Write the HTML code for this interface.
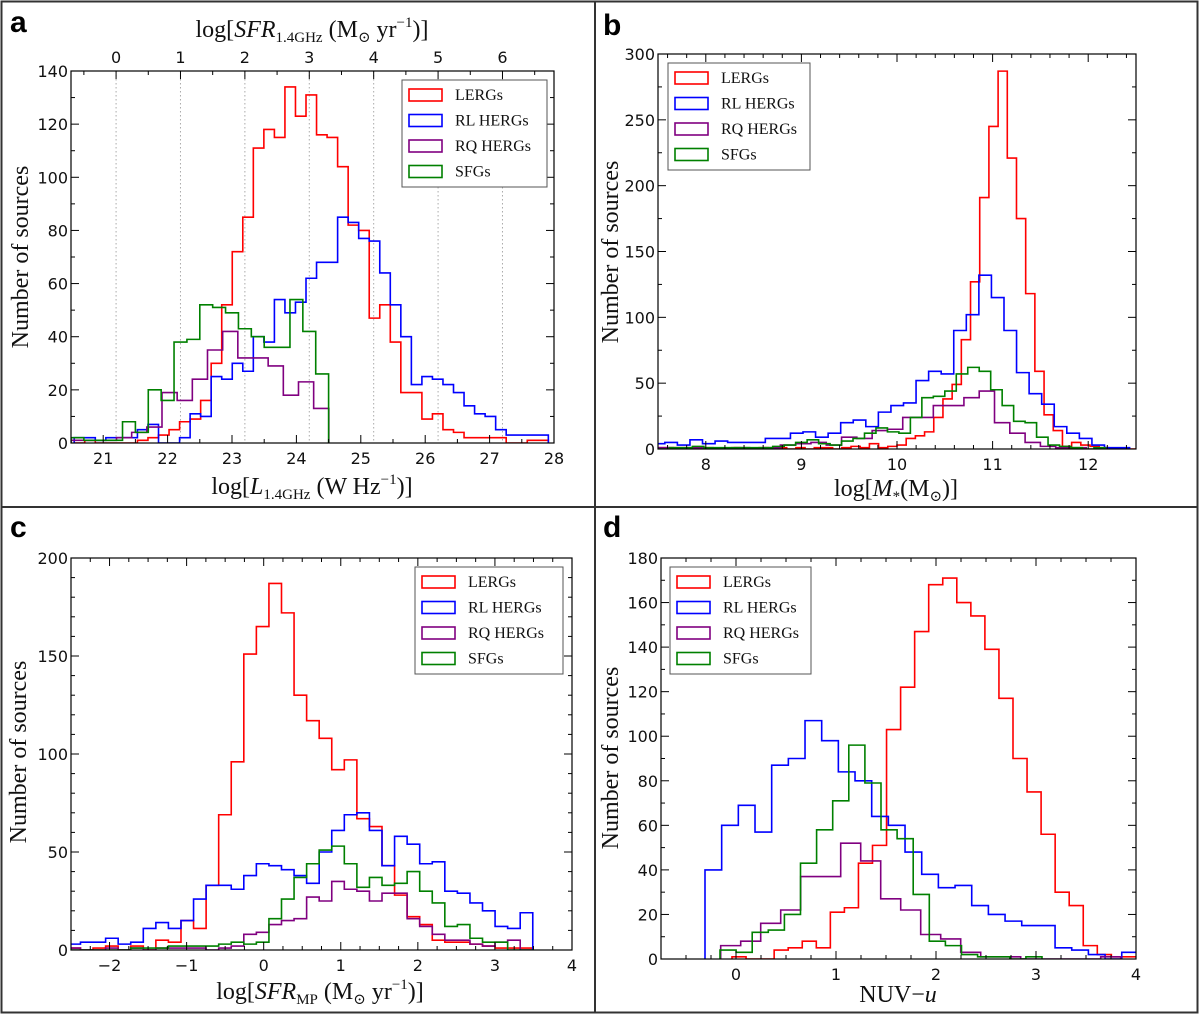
<!DOCTYPE html>
<html><head><meta charset="utf-8"><style>
html,body{margin:0;padding:0;background:#fff}
svg{display:block}
.tk{font-family:"DejaVu Sans","Liberation Sans",sans-serif;font-size:16px;fill:#111}
.lab{font-family:"Liberation Serif","DejaVu Serif",serif;font-size:24px;fill:#111}
.lg{font-family:"Liberation Serif","DejaVu Serif",serif;font-size:16px;fill:#111}
.let{font-family:"Liberation Sans",sans-serif;font-size:30px;font-weight:bold;fill:#000}
</style></head><body>
<svg id="fig" width="1200" height="1015" xmlns="http://www.w3.org/2000/svg">
<rect x="1.5" y="1.5" width="1196" height="1011" fill="none" stroke="#333" stroke-width="2"/>
<line x1="595" y1="1" x2="595" y2="1013" stroke="#333" stroke-width="2"/>
<line x1="1" y1="507" x2="1198" y2="507" stroke="#333" stroke-width="2"/>
<text class="let" x="10" y="32">a</text>
<text class="let" x="603" y="35">b</text>
<text class="let" x="10" y="537">c</text>
<text class="let" x="603" y="537">d</text>

<text class="lab" x="312" y="37" text-anchor="middle">log[<tspan font-style="italic">SFR</tspan><tspan font-size="15" dy="5">1.4GHz</tspan><tspan dy="-5"> (M</tspan><tspan font-size="15" dy="5">⊙</tspan><tspan dy="-5"> yr</tspan><tspan font-size="15" dy="-10">−1</tspan><tspan dy="10">)]</tspan></text>
<text class="lab" x="312" y="494" text-anchor="middle">log[<tspan font-style="italic">L</tspan><tspan font-size="15" dy="5">1.4GHz</tspan><tspan dy="-5"> (W Hz</tspan><tspan font-size="15" dy="-10">−1</tspan><tspan dy="10">)]</tspan></text>
<text class="lab" x="896" y="496" text-anchor="middle">log[<tspan font-style="italic">M</tspan><tspan font-size="15" dy="5">*</tspan><tspan dy="-5">(M</tspan><tspan font-size="15" dy="5">⊙</tspan><tspan dy="-5">)]</tspan></text>
<text class="lab" x="320" y="999" text-anchor="middle">log[<tspan font-style="italic">SFR</tspan><tspan font-size="15" dy="5">MP</tspan><tspan dy="-5"> (M</tspan><tspan font-size="15" dy="5">⊙</tspan><tspan dy="-5"> yr</tspan><tspan font-size="15" dy="-10">−1</tspan><tspan dy="10">)]</tspan></text>
<text class="lab" x="898" y="1002" text-anchor="middle">NUV−<tspan font-style="italic">u</tspan></text>
<text class="lab" transform="translate(28,257) rotate(-90)" text-anchor="middle">Number of sources</text>
<text class="lab" transform="translate(618,252) rotate(-90)" text-anchor="middle">Number of sources</text>
<text class="lab" transform="translate(26,752) rotate(-90)" text-anchor="middle">Number of sources</text>
<text class="lab" transform="translate(618,758) rotate(-90)" text-anchor="middle">Number of sources</text>
</svg>
<script>
// ---- Panel a: log L1.4GHz ----
const aLergStart = 20.55, aLergWidth = 0.1636;
const aLerg = [0,1,0,0,0,0,1,2,3,5,8,9,16,30,52,72,85,111,118,115,134,123,131,116,115,104,82,80,47,52,38,19,19,9,11,5,4,2,2,2,2,0,0,1,1];
const aRlStart = 20.55, aRlWidth = 0.1636;
const aRl = [2,2,1,2,2,2,5,7,0,0,2,11,10,25,24,30,27,40,38,54,49,53,62,68,68,85,83,77,76,64,52,40,22,25,24,22,19,14,11,10,5,3,3,3,3];
const aRqStart = 20.5, aRqWidth = 0.2355;
const aRq = [1,1,1,2,4,6,19,16,24,35,42,32,32,29,18,23,13];
const aSfgStart = 20.5, aSfgWidth = 0.2;
const aSfg = [2,1,1,1,8,4,20,16,38,39,52,51,49,43,40,36,36,54,42,26];
const aXTicks = [21,22,23,24,25,26,27,28];
const aYTicks = [0,20,40,60,80,100,120,140];
const aTopTicks = [0,1,2,3,4,5,6];
// ---- Panel b: stellar mass ----
const bLergStart = 7.5, bLergWidth = 0.09615;
const bLerg = [1,1,1,0,0,1,0,0,1,0,0,1,0,1,0,1,0,1,1,0,1,2,1,4,1,2,3,8,10,13,24,38,49,83,127,191,245,287,221,175,118,59,26,14,2,5,3,2,1,0,0,0];
const bRlStart = 7.44, bRlWidth = 0.1314;
const bRl = [4,5,3,7,4,6,5,5,5,8,8,12,13,9,12,20,22,17,28,33,35,52,59,57,90,102,132,115,90,58,42,34,17,12,8,3,1,1];
const bRqStart = 7.5, bRqWidth = 0.16;
const bRq = [1,0,1,0,0,1,0,1,3,4,5,3,9,8,14,15,24,24,33,33,39,44,20,12,5,2,1,1];
const bSfgStart = 7.5, bSfgWidth = 0.12;
const bSfg = [0,1,1,2,1,1,1,1,1,1,2,3,5,7,4,3,6,8,12,16,13,12,24,39,40,44,57,62,59,45,33,21,20,9,3,2,1,0,1];
const bXTicks = [8,9,10,11,12];
const bYTicks = [0,50,100,150,200,250,300];
// ---- Panel c: SFR MP ----
const cStart = -2.54, cWidth = 0.163;
const cLerg = [1,0,1,2,0,2,0,5,4,15,11,33,69,96,151,165,187,172,130,117,108,92,97,67,63,43,28,17,13,5,4,4,3,2,1,1,1];
const cRl = [3,4,4,6,3,4,11,14,11,15,26,33,33,31,38,44,43,41,38,34,50,61,69,70,61,43,58,54,44,45,30,29,24,20,12,11,19];
const cRq = [1,0,0,1,0,1,0,1,1,1,1,0,1,2,8,9,13,15,16,27,25,35,31,30,25,29,29,16,12,8,5,5,3,2,4,5,0];
const cSfg = [0,0,0,0,0,1,1,1,2,2,2,2,3,4,3,4,16,26,37,44,51,53,44,32,37,33,34,40,30,24,12,13,6,4,4,0,0];
const cXTicks = [-2,-1,0,1,2,3,4];
const cYTicks = [0,50,100,150,200];
// ---- Panel d: NUV-u ----
const dLergStart = -0.04, dLergWidth = 0.1405;
const dLerg = [1,0,0,4,5,8,5,21,23,43,51,103,122,147,168,171,160,154,139,117,90,75,56,30,24,6,2,1,1];
const dRlStart = -0.31, dRlWidth = 0.1667;
const dRl = [40,60,69,57,87,90,107,98,84,80,64,60,48,38,32,33,24,20,17,15,15,5,4,2,0,3];
const dRqStart = -0.153, dRqWidth = 0.2;
const dRq = [6,8,16,22,37,37,52,44,27,22,11,9,3,1,1,0,0,0,0,1];
const dSfgStart = -0.16, dSfgWidth = 0.161;
const dSfg = [4,3,12,13,20,43,58,71,96,79,58,54,29,8,6,2,1,1,0,1];
const dXTicks = [0,1,2,3,4];
const dYTicks = [0,20,40,60,80,100,120,140,160,180];
const legendLabels = ["LERGs","RL HERGs","RQ HERGs","SFGs"];
const colors = ["#ff0000","#0000ff","#800080","#008000"];

const NS = "http://www.w3.org/2000/svg";
const svg = document.getElementById("fig");
function mk(tag, attrs, parent) {
  const e = document.createElementNS(NS, tag);
  for (const k in attrs) e.setAttribute(k, attrs[k]);
  (parent || svg).appendChild(e);
  return e;
}
let clipId = 0;
function panel(p) {
  const g = mk("g", {});
  
  
  const sx = v => p.x0 + (v - p.xmin) / (p.xmax - p.xmin) * (p.x1 - p.x0);
  const sy = v => p.y1 - (v - p.ymin) / (p.ymax - p.ymin) * (p.y1 - p.y0);
  clipId++;
  const cp = mk("clipPath", {id: "cp" + clipId}, g);
  mk("rect", {x: p.x0, y: p.y0, width: p.x1 - p.x0, height: p.y1 - p.y0}, cp);
  if (p.top) {
    p.top.ticks.forEach(t => {
      const X = sx(t + p.top.offset);
      const gl = mk("line", {x1: X, x2: X, y1: p.y0, y2: p.y1, stroke: "#aaa", "stroke-width": 1, "stroke-dasharray": "1.5,2.5"}, g);
      
      
    });
  }
  p.series.forEach((s, i) => {
    let d = "M" + sx(s.start) + "," + sy(0);
    s.vals.forEach((v, k) => {
      const xa = sx(s.start + k * s.width), xb = sx(s.start + (k + 1) * s.width);
      d += " L" + xa + "," + sy(v) + " L" + xb + "," + sy(v);
    });
    d += " L" + sx(s.start + s.vals.length * s.width) + "," + sy(0);
    const path = mk("path", {d: d, fill: "none", stroke: colors[i], "stroke-width": 1.6, "clip-path": "url(#cp" + clipId + ")"}, g);
    
    
  });
  const fr = mk("rect", {x: p.x0, y: p.y0, width: p.x1 - p.x0, height: p.y1 - p.y0, fill: "none", stroke: "#000", "stroke-width": 1.2}, g);
  
  
  for (let v = Math.ceil(p.xmin / p.xminor - 1e-9) * p.xminor; v <= p.xmax + 1e-9; v += p.xminor) {
    const X = sx(v);
    const isMaj = p.xticks.some(t => Math.abs(t - v) < 1e-6);
    const L = isMaj ? 8 : 4;
    mk("line", {x1: X, x2: X, y1: p.y1, y2: p.y1 - L, stroke: "#000", "stroke-width": 1}, g);
    if (!p.top) mk("line", {x1: X, x2: X, y1: p.y0, y2: p.y0 + L, stroke: "#000", "stroke-width": 1}, g);
  }
  p.xticks.forEach(t => {
    const tx = mk("text", {x: sx(t), y: p.y1 + 21, "text-anchor": "middle", class: "tk"}, g);
    tx.textContent = t < 0 ? "−" + Math.abs(t) : String(t);
    
    
  });
  if (p.top) {
    for (let v = -0.5; v <= 7; v += 0.5) {
      const X = sx(v + p.top.offset);
      if (X < p.x0 || X > p.x1) continue;
      const L = Math.abs(v - Math.round(v)) < 1e-6 ? 8 : 4;
      mk("line", {x1: X, x2: X, y1: p.y0, y2: p.y0 + L, stroke: "#000", "stroke-width": 1}, g);
    }
    p.top.ticks.forEach(t => {
      const tx = mk("text", {x: sx(t + p.top.offset), y: p.y0 - 8, "text-anchor": "middle", class: "tk"}, g);
      tx.textContent = String(t);
      
      
    });
  }
  for (let v = p.ymin; v <= p.ymax + 1e-9; v += p.yminor) {
    const Y = sy(v);
    const isMaj = p.yticks.some(t => Math.abs(t - v) < 1e-6);
    const L = isMaj ? 8 : 4;
    mk("line", {x1: p.x0, x2: p.x0 + L, y1: Y, y2: Y, stroke: "#000", "stroke-width": 1}, g);
    mk("line", {x1: p.x1, x2: p.x1 - L, y1: Y, y2: Y, stroke: "#000", "stroke-width": 1}, g);
  }
  p.yticks.forEach(t => {
    const ty = mk("text", {x: p.x0 - 3, y: sy(t) + 6, "text-anchor": "end", class: "tk"}, g);
    ty.textContent = String(t);
    
    
  });
  const lg = mk("g", {}, g);
  
  
  mk("rect", {x: p.leg[0], y: p.leg[1], width: p.leg[2], height: 107, fill: "#fff", stroke: "#555", "stroke-width": 1}, lg);
  legendLabels.forEach((lab, i) => {
    const cy = p.leg[1] + 15 + i * 25.5;
    const pr = mk("rect", {x: p.leg[0] + 7, y: cy - 6, width: 33, height: 12, fill: "none", stroke: colors[i], "stroke-width": 1.6}, lg);
    
    
    const lt = mk("text", {x: p.leg[0] + 53, y: cy + 5, class: "lg"}, lg);
    lt.textContent = lab;
    
    
  });
}
panel({name: "panel-a", x0: 71, x1: 554, y0: 71, y1: 443, xmin: 20.5, xmax: 28, ymin: 0, ymax: 140,
  xticks: aXTicks, yticks: aYTicks, xminor: 0.5, yminor: 10, leg: [402, 80, 145],
  top: {ticks: aTopTicks, offset: 21.2},
  series: [{start: aLergStart, width: aLergWidth, vals: aLerg}, {start: aRlStart, width: aRlWidth, vals: aRl},
           {start: aRqStart, width: aRqWidth, vals: aRq}, {start: aSfgStart, width: aSfgWidth, vals: aSfg}]});
panel({name: "panel-b", x0: 658, x1: 1136, y0: 54, y1: 449, xmin: 7.5, xmax: 12.5, ymin: 0, ymax: 300,
  xticks: bXTicks, yticks: bYTicks, xminor: 0.2, yminor: 25, leg: [668, 63, 142],
  series: [{start: bLergStart, width: bLergWidth, vals: bLerg}, {start: bRlStart, width: bRlWidth, vals: bRl},
           {start: bRqStart, width: bRqWidth, vals: bRq}, {start: bSfgStart, width: bSfgWidth, vals: bSfg}]});
panel({name: "panel-c", x0: 71, x1: 572, y0: 558, y1: 950, xmin: -2.5, xmax: 4, ymin: 0, ymax: 200,
  xticks: cXTicks, yticks: cYTicks, xminor: 0.25, yminor: 10, leg: [415, 567, 148],
  series: [{start: cStart, width: cWidth, vals: cLerg}, {start: cStart, width: cWidth, vals: cRl},
           {start: cStart, width: cWidth, vals: cRq}, {start: cStart, width: cWidth, vals: cSfg}]});
panel({name: "panel-d", x0: 661, x1: 1136, y0: 558, y1: 959, xmin: -0.75, xmax: 4, ymin: 0, ymax: 180,
  xticks: dXTicks, yticks: dYTicks, xminor: 0.25, yminor: 10, leg: [670, 567, 141],
  series: [{start: dLergStart, width: dLergWidth, vals: dLerg}, {start: dRlStart, width: dRlWidth, vals: dRl},
           {start: dRqStart, width: dRqWidth, vals: dRq}, {start: dSfgStart, width: dSfgWidth, vals: dSfg}]});
</script>
</body></html>
